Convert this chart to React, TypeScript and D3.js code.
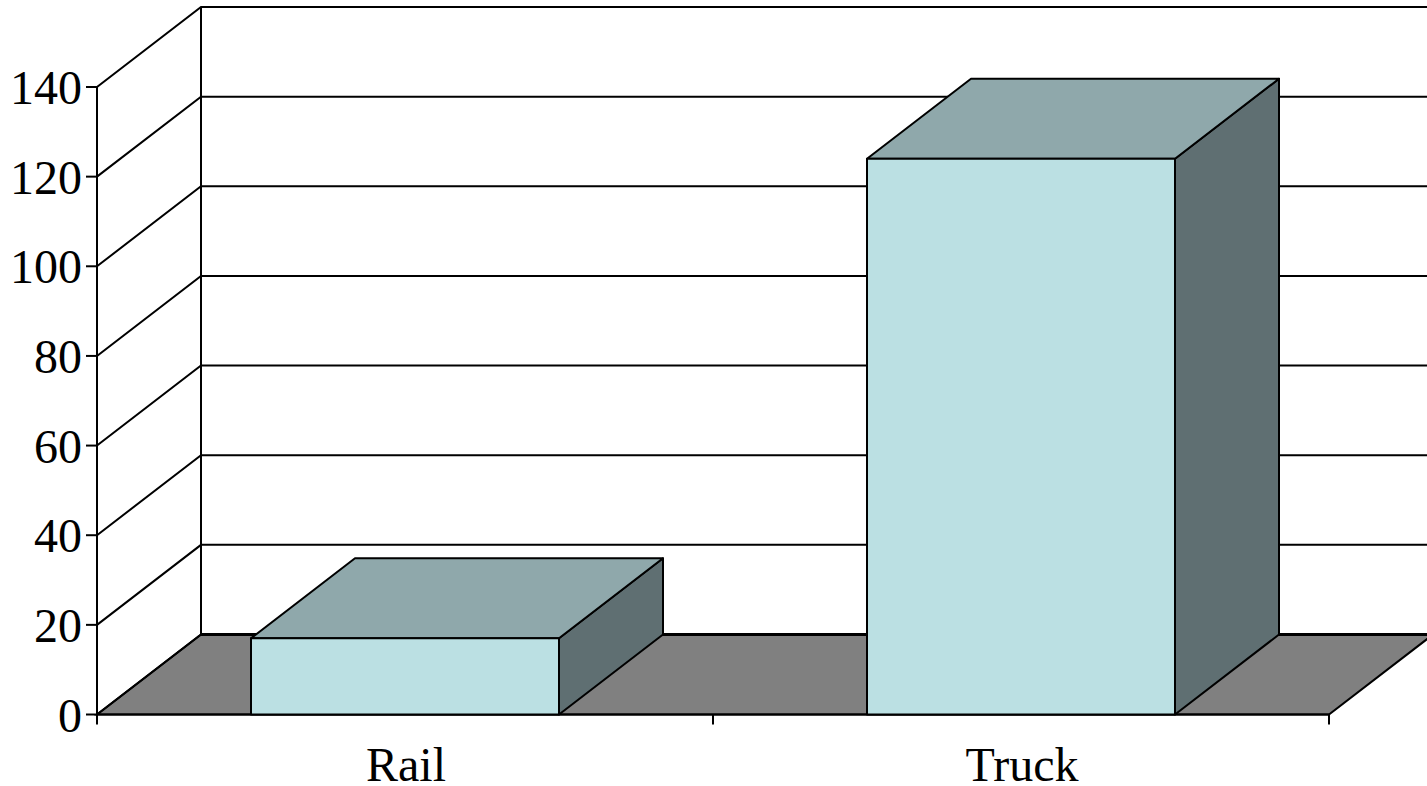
import React from "react";
import * as d3 from "d3";

const categories = ["Rail", "Truck"];
const values = [17, 124];
const yTicks = [0, 20, 40, 60, 80, 100, 120, 140];

const W = 1427, H = 786;
const x0 = 97, x1 = 1329, yBase = 714.5, yTop = 87;
const dx = 104, dy = -80;

export default function App() {
  const y = d3.scaleLinear().domain([0, 140]).range([yBase, yTop]);
  const x = d3.scaleBand<string>().domain(categories).range([x0, x1]).paddingInner(0.5).paddingOuter(0.25);
  const pts = (p: [number, number][]) => p.map(q => q.join(",")).join(" ");
  const font = "'Liberation Serif', 'Times New Roman', serif";
  const boundaries = [x0, (x0 + x1) / 2, x1];
  const sw = 2;
  return (
    <svg width={W} height={H} viewBox={`0 0 ${W} ${H}`} style={{ position: "absolute", left: 0, top: 0, background: "#fff" }}>
      <polygon points={pts([[x0, yBase], [x1, yBase], [x1 + dx, yBase + dy], [x0 + dx, yBase + dy]])} fill="#808080" stroke="#000" strokeWidth={sw} />
      <line x1={x0 + dx} x2={W + 5} y1={yBase + dy} y2={yBase + dy} stroke="#000" strokeWidth={3} />
      <line x1={x0 + dx} x2={x0 + dx} y1={yBase + dy} y2={yTop + dy} stroke="#000" strokeWidth={sw} />
      <line x1={x0} x2={x0} y1={yBase} y2={yTop} stroke="#000" strokeWidth={sw} />
      {yTicks.map(t => (
        <g key={t}>
          {t > 0 && <polyline points={pts([[x0, y(t)], [x0 + dx, y(t) + dy], [W + 5, y(t) + dy]])} fill="none" stroke="#000" strokeWidth={sw} />}
          <line x1={x0 - 11} x2={x0} y1={y(t)} y2={y(t)} stroke="#000" strokeWidth={sw} />
          <text x={x0 - 15} y={y(t) + 17} textAnchor="end" fontFamily={font} fontSize={48} fill="#000">{t}</text>
        </g>
      ))}
      <line x1={x0} x2={x0 + dx} y1={yBase} y2={yBase + dy} stroke="#000" strokeWidth={sw} />
      <line x1={x0} x2={x1} y1={yBase} y2={yBase} stroke="#000" strokeWidth={sw} />
      {boundaries.map(b => (
        <line key={b} x1={b} x2={b} y1={yBase} y2={yBase + 10} stroke="#000" strokeWidth={sw} />
      ))}
      {categories.map((c, i) => {
        const l = x(c)!, r = l + x.bandwidth(), t = y(values[i]);
        return (
          <g key={c} stroke="#000" strokeWidth={sw} strokeLinejoin="round">
            <polygon points={pts([[r, yBase], [r + dx, yBase + dy], [r + dx, t + dy], [r, t]])} fill="#5f6f72" />
            <polygon points={pts([[l, t], [r, t], [r + dx, t + dy], [l + dx, t + dy]])} fill="#8fa8ab" />
            <rect x={l} y={t} width={x.bandwidth()} height={yBase - t} fill="#bbe0e3" />
            <text x={(l + r) / 2 + 1} y={781} stroke="none" textAnchor="middle" fontFamily={font} fontSize={48} fill="#000">{c}</text>
          </g>
        );
      })}
    </svg>
  );
}
